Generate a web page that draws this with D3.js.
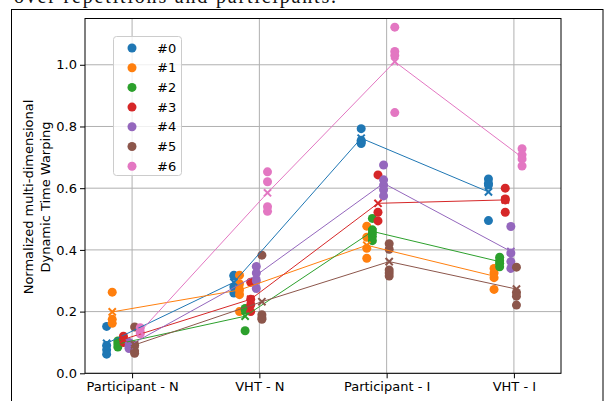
<!DOCTYPE html>
<html><head><meta charset="utf-8">
<script src="https://cdn.jsdelivr.net/npm/d3@7"></script>
<style>html,body{margin:0;padding:0;background:#fff;overflow:hidden}svg{display:block}</style>
</head><body>
<script>
const categories = ["Participant - N", "VHT - N", "Participant - I", "VHT - I"];
const seriesNames = ["#0", "#1", "#2", "#3", "#4", "#5", "#6"];
const colors = ["#1f77b4", "#ff7f0e", "#2ca02c", "#d62728", "#9467bd", "#8c564b", "#e377c2"];
const yTicks = [0.0, 0.2, 0.4, 0.6, 0.8, 1.0];

// individual repetitions per category
const pointsS0 = [[0.152, 0.09, 0.076, 0.062], [0.318, 0.315, 0.28, 0.26], [0.793, 0.755, 0.75, 0.745], [0.63, 0.616, 0.61, 0.495]];
const pointsS1 = [[0.263, 0.175, 0.162], [0.318, 0.29, 0.27, 0.255, 0.2], [0.477, 0.441, 0.405, 0.373], [0.34, 0.325, 0.31, 0.272]];
const pointsS2 = [[0.105, 0.095, 0.085], [0.21, 0.205, 0.138], [0.502, 0.465, 0.455, 0.443, 0.43], [0.376, 0.365, 0.357, 0.345]];
const pointsS3 = [[0.12, 0.11, 0.1], [0.295, 0.24, 0.222, 0.2], [0.643, 0.522, 0.494], [0.6, 0.565, 0.562, 0.522]];
const pointsS4 = [[0.1, 0.088, 0.08], [0.346, 0.325, 0.3, 0.275], [0.675, 0.627, 0.61, 0.595, 0.575], [0.476, 0.39, 0.362, 0.34]];
const pointsS5 = [[0.15, 0.09, 0.072, 0.065], [0.383, 0.19, 0.18, 0.175], [0.42, 0.402, 0.335, 0.325, 0.315], [0.344, 0.262, 0.25, 0.221]];
const pointsS6 = [[0.148, 0.135, 0.128], [0.653, 0.621, 0.54, 0.525], [1.122, 1.043, 1.03, 0.845], [0.728, 0.708, 0.695, 0.672]];

// means per category (x markers, connected by lines)
const meansS0 = [0.097, 0.295, 0.762, 0.588];
const meansS1 = [0.199, 0.27, 0.415, 0.315];
const meansS2 = [0.095, 0.185, 0.46, 0.362];
const meansS3 = [0.11, 0.24, 0.551, 0.562];
const meansS4 = [0.09, 0.318, 0.616, 0.395];
const meansS5 = [0.092, 0.232, 0.362, 0.273];
const meansS6 = [0.135, 0.585, 1.01, 0.70];

const allPoints = [pointsS0, pointsS1, pointsS2, pointsS3, pointsS4, pointsS5, pointsS6];
const allMeans = [meansS0, meansS1, meansS2, meansS3, meansS4, meansS5, meansS6];

const W = 605, H = 401;
const svg = d3.select("body").append("svg").attr("width", W).attr("height", H);
const font = "DejaVu Sans, sans-serif";
const fs = 13;

// caption fragment and outer frame
svg.append("text").attr("x", 14).attr("y", 3).attr("font-family", "Liberation Serif, serif")
  .attr("font-size", 20).attr("textLength", 322).attr("fill", "#111")
  .text("over repetitions and participants.");
svg.append("rect").attr("x", 11.5).attr("y", 9.5).attr("width", 591.5).attr("height", 400)
  .attr("fill", "none").attr("stroke", "#000").attr("stroke-width", 1);

const L = 85, R = 561, T = 18.5, B = 373.3;
const x = d3.scaleLinear().domain([-0.37, 3.37]).range([L, R]);
const y = d3.scaleLinear().domain([0, 1.15]).range([B, T]);
const off = i => -0.2 + i * 0.044;

// grid
const g = svg.append("g");
g.selectAll(".vg").data(categories).join("line")
  .attr("x1", (d, i) => x(i)).attr("x2", (d, i) => x(i)).attr("y1", T).attr("y2", B)
  .attr("stroke", "#b0b0b0").attr("stroke-width", 1);
g.selectAll(".hg").data(yTicks).join("line")
  .attr("x1", L).attr("x2", R).attr("y1", d => y(d)).attr("y2", d => y(d))
  .attr("stroke", "#b0b0b0").attr("stroke-width", 1);

// series
const marks = svg.append("g");
allPoints.forEach((pts, s) => {
  const c = colors[s];
  const flat = [];
  pts.forEach((arr, ci) => arr.forEach(v => flat.push({ci, v})));
  marks.append("g").selectAll("circle").data(flat).join("circle")
    .attr("cx", d => x(d.ci + off(s))).attr("cy", d => y(d.v)).attr("r", 4.5).attr("fill", c);
});
allMeans.forEach((ms, s) => {
  const c = colors[s];
  const line = d3.line().x((d, i) => x(i + off(s))).y(d => y(d));
  marks.append("path").attr("d", line(ms)).attr("fill", "none").attr("stroke", c).attr("stroke-width", 1);
  const xs = 3.6;
  marks.append("g").selectAll("path").data(ms).join("path")
    .attr("d", (d, i) => {
      const cx = x(i + off(s)), cy = y(d);
      return `M${cx - xs},${cy - xs}L${cx + xs},${cy + xs}M${cx - xs},${cy + xs}L${cx + xs},${cy - xs}`;
    })
    .attr("stroke", c).attr("stroke-width", 2).attr("fill", "none");
});

// axes box
svg.append("rect").attr("x", L).attr("y", T).attr("width", R - L).attr("height", B - T)
  .attr("fill", "none").attr("stroke", "#000").attr("stroke-width", 1);

// y axis
const ya = svg.append("g").attr("transform", `translate(${L},0)`)
  .call(d3.axisLeft(y).tickValues(yTicks).tickFormat(d3.format(".1f")).tickSize(5).tickPadding(3));
ya.select(".domain").remove();
ya.selectAll("text").attr("font-family", font).attr("font-size", fs).attr("fill", "#000");
ya.selectAll("line").attr("stroke", "#000");

// x axis
const xa = svg.append("g").attr("transform", `translate(0,${B})`)
  .call(d3.axisBottom(x).tickValues([0, 1, 2, 3]).tickFormat(i => categories[i]).tickSize(5).tickPadding(3));
xa.select(".domain").remove();
xa.selectAll("text").attr("font-family", font).attr("font-size", fs).attr("fill", "#000");
xa.selectAll("line").attr("stroke", "#000");

// y label
const yl = svg.append("text").attr("transform", `translate(37,197) rotate(-90)`)
  .attr("text-anchor", "middle").attr("font-family", font).attr("font-size", fs);
yl.append("tspan").attr("x", 0).attr("dy", "-0.3em").text("Normalized multi-dimensional");
yl.append("tspan").attr("x", 0).attr("dy", "1.3em").text("Dynamic Time Warping");

// legend
const lg = svg.append("g");
lg.append("rect").attr("x", 113.5).attr("y", 36.5).attr("width", 68).attr("height", 139).attr("rx", 3)
  .attr("fill", "#fff").attr("fill-opacity", 0.8).attr("stroke", "#cccccc");
seriesNames.forEach((n, i) => {
  const cy = 48 + i * 19.7;
  lg.append("circle").attr("cx", 132).attr("cy", cy).attr("r", 4.5).attr("fill", colors[i]);
  lg.append("text").attr("x", 157).attr("y", cy).attr("dy", "0.35em")
    .attr("font-family", font).attr("font-size", fs).text(n);
});
</script>
</body></html>
